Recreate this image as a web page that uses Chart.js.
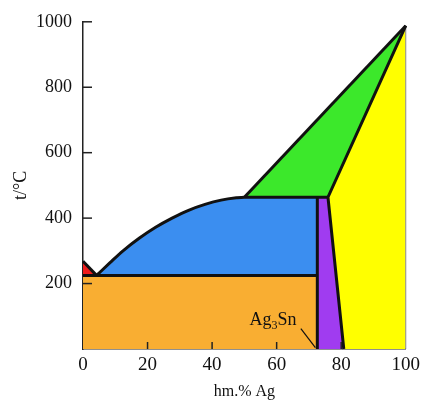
<!DOCTYPE html>
<html>
<head>
<meta charset="utf-8">
<script src="https://cdn.jsdelivr.net/npm/chart.js@4.4.1/dist/chart.umd.min.js"></script>
<style>
  html, body { margin: 0; padding: 0; background: #fff; }
</style>
</head>
<body>
<canvas id="phase" width="425" height="401"></canvas>
<script>
// phase boundaries (x = hm.% Ag, y = t/°C)
const snLiqX = [0, 4.2];
const snLiqY = [268, 225];

const liqLineX = [4.2, 8.3, 12.4, 17.5, 22.5, 27.6, 32.7, 37.8, 42.8, 47.5, 50, 75.9];
const liqLineY = [225, 263, 300, 339, 372, 400, 424, 442, 455, 462, 464, 464];

const blueX = [4.2, 8.3, 12.4, 17.5, 22.5, 27.6, 32.7, 37.8, 42.8, 47.5, 50, 72.6];
const blueY = [225, 263, 300, 339, 372, 400, 424, 442, 455, 462, 464, 464];

const agLiqX = [50, 100];
const agLiqY = [464, 988];

const eutX = [0, 72.6];
const eutY = [225, 225];

const ag3snX = [72.6, 72.6];
const ag3snY = [464, 0];

const solidusX = [100, 75.9, 80.8];
const solidusY = [988, 464, 0];

const edgeX = [100, 100];
const edgeY = [0, 988];

const greenX = [50, 75.9, 100];
const greenY = [464, 464, 988];

const yellowX = [75.9, 100, 100, 80.8];
const yellowY = [464, 988, 0, 0];

const purpleX = [72.6, 75.9, 80.8, 72.6];
const purpleY = [464, 464, 0, 0];

const leaderX = [67.5, 72];
const leaderY = [62, 4];

const xTicks = [0, 20, 40, 60, 80, 100];
const yTicks = [200, 400, 600, 800, 1000];

const serif = '"Liberation Serif", "DejaVu Serif", serif';

function pts(xs, ys) {
  return xs.map((x, i) => ({ x: x, y: ys[i] }));
}

function outline(xs, ys, w, color, mode) {
  return {
    type: 'line',
    data: pts(xs, ys),
    borderColor: color || '#111',
    borderWidth: w,
    pointRadius: 0,
    fill: false,
    tension: 0,
    cubicInterpolationMode: mode || 'default',
    clip: false
  };
}

function area(xs, ys, color, fill, mode) {
  return {
    type: 'line',
    data: pts(xs, ys),
    borderColor: 'transparent',
    borderWidth: 0,
    backgroundColor: color,
    pointRadius: 0,
    fill: fill,
    tension: 0,
    cubicInterpolationMode: mode || 'default',
    clip: false
  };
}

// inward tick marks and the Ag3Sn label
const decor = {
  id: 'decor',
  afterDatasetsDraw(chart) {
    const { ctx, scales: { x, y } } = chart;
    ctx.save();
    ctx.strokeStyle = '#222';
    ctx.lineWidth = 1.5;
    yTicks.forEach(v => {
      const py = y.getPixelForValue(v);
      ctx.beginPath();
      ctx.moveTo(x.left, py);
      ctx.lineTo(x.left + 9, py);
      ctx.stroke();
    });
    xTicks.forEach(v => {
      if (v === 0 || v === 100) return;
      const px = x.getPixelForValue(v);
      ctx.beginPath();
      ctx.moveTo(px, y.bottom);
      ctx.lineTo(px, y.bottom - 7);
      ctx.stroke();
    });

    let px = x.getPixelForValue(51.6);
    const py = y.getPixelForValue(74);
    ctx.fillStyle = '#111';
    ctx.textBaseline = 'alphabetic';
    ctx.textAlign = 'left';
    ctx.font = '18px ' + serif;
    ctx.fillText('Ag', px, py);
    px += ctx.measureText('Ag').width;
    ctx.font = '12px ' + serif;
    ctx.fillText('3', px, py + 4);
    px += ctx.measureText('3').width;
    ctx.font = '18px ' + serif;
    ctx.fillText('Sn', px, py);
    ctx.restore();
  }
};

new Chart(document.getElementById('phase'), {
  type: 'line',
  data: {
    datasets: [
      outline(solidusX, solidusY, 3),
      outline(liqLineX, liqLineY, 3, '#111', 'monotone'),
      outline(agLiqX, agLiqY, 3),
      outline(snLiqX, snLiqY, 3),
      outline(eutX, eutY, 3),
      outline(ag3snX, ag3snY, 3),
      outline(edgeX, edgeY, 1, '#888'),
      outline(leaderX, leaderY, 1.2),
      area(snLiqX, snLiqY, '#EE1C1C', { value: 225 }),
      area(blueX, blueY, '#3B8EF0', { value: 225 }, 'monotone'),
      area(eutX, eutY, '#F9AE32', 'origin'),
      area(purpleX, purpleY, '#A03CF0', 'shape'),
      area(greenX, greenY, '#3CE82B', 'shape'),
      area(yellowX, yellowY, '#FFFF00', 'shape')
    ]
  },
  options: {
    responsive: false,
    animation: false,
    devicePixelRatio: 1,
    layout: { padding: { top: 19, right: 14, left: 0, bottom: 0 } },
    plugins: {
      legend: { display: false },
      tooltip: { enabled: false }
    },
    scales: {
      x: {
        type: 'linear',
        min: 0,
        max: 100,
        afterFit: s => { s.height = 52; },
        afterBuildTicks: s => { s.ticks = xTicks.map(v => ({ value: v })); },
        grid: { display: false, drawTicks: false },
        border: { display: true, color: '#222', width: 1.5 },
        ticks: { color: '#111', padding: 5, font: { family: serif, size: 19 }, callback: v => String(v) },
        title: {
          display: true,
          text: 'hm.% Ag',
          color: '#111',
          padding: { top: 0, bottom: 0 },
          font: { family: serif, size: 16 }
        }
      },
      y: {
        min: 0,
        max: 1000,
        afterFit: s => { s.width = 83; },
        afterBuildTicks: s => { s.ticks = yTicks.map(v => ({ value: v })); },
        grid: { display: false, drawTicks: false },
        border: { display: true, color: '#222', width: 1.5 },
        ticks: { color: '#111', padding: 11, font: { family: serif, size: 18 }, callback: v => String(v) },
        title: {
          display: true,
          text: 't/°C',
          color: '#111',
          padding: { top: 10, bottom: 0 },
          font: { family: serif, size: 18 }
        }
      }
    }
  },
  plugins: [decor]
});
</script>
</body>
</html>
